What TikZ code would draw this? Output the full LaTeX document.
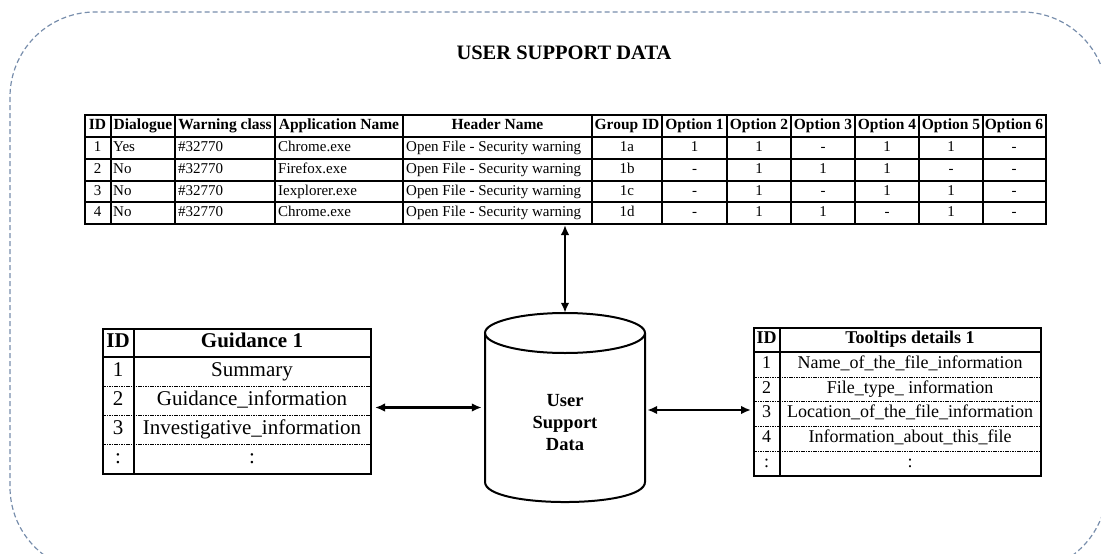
\documentclass[tikz,border=0pt]{standalone}
\usepackage{fontspec}
\setmainfont{Liberation Serif}
\usetikzlibrary{arrows.meta}
\definecolor{bordercol}{RGB}{120,142,172}
\begin{document}
\begin{tikzpicture}[x=1pt,y=-1pt,
  tbl/.style={draw, line width=2pt, inner sep=0pt, anchor=north west},
  gridline/.style={line width=1.6pt},
  sepline/.style={line width=0.8pt, dash pattern=on 1.6pt off 0.8pt},
  tb/.style={font=\fontsize{15}{16}\selectfont, inner sep=0pt, text height=10pt, text depth=3pt},
  th/.style={font=\bfseries\fontsize{15.5}{16}\selectfont, inner sep=0pt, text height=10.5pt, text depth=3pt},
  gb/.style={font=\fontsize{21}{24}\selectfont, inner sep=0pt, text height=14.5pt, text depth=4.5pt},
  gh/.style={font=\bfseries\fontsize{21}{24}\selectfont, inner sep=0pt, text height=14.5pt, text depth=4.5pt},
  kb/.style={font=\fontsize{18}{20}\selectfont, inner sep=0pt, text height=12.5pt, text depth=4pt},
  kh/.style={font=\bfseries\fontsize{18}{20}\selectfont, inner sep=0pt, text height=12.5pt, text depth=4pt},
  link/.style={line width=2.2pt, {Latex[length=10pt,width=8.5pt]}-{Latex[length=10pt,width=8.5pt]}},
  cyl/.style={line width=2pt}]
\useasboundingbox (0,0) rectangle (1101,554);

% dashed outer frame
\begin{scope}
\clip (0,0) rectangle (1101,554);
\draw[bordercol, line width=1.2pt, dash pattern=on 5pt off 3pt, rounded corners=85pt] (10,12) rectangle (1107,572);
\end{scope}

% title
\node[font=\bfseries\fontsize{20.5}{22}\selectfont] (title) at (564,53) {USER SUPPORT DATA};

% ---------- top table ----------
\node[tbl, minimum width=961pt, minimum height=109pt] (toptab) at (84,114) {};
\foreach \x in {111,175,275,403,592,662,727,791,855,919,983}
  \draw[gridline] (\x,114) -- (\x,223);
\foreach \y in {137,159,181,202}
  \draw[gridline] (84,\y) -- (1045,\y);
\foreach \x/\t [count=\i] in {97.5/ID,143/Dialogue,225/Warning class,339/Application Name,497.5/Header Name,627/Group ID,694.5/Option 1,759/Option 2,823/Option 3,887/Option 4,951/Option 5,1014/Option 6}
  \node[th] (h\i) at (\x,125.5) {\t};
\foreach \y/\id/\dlg/\app/\grp/\oa/\ob/\oc/\od/\oe/\of in {
  148/1/Yes/Chrome.exe/1a/1/1/-/1/1/-,
  170/2/No/Firefox.exe/1b/-/1/1/1/-/-,
  191.5/3/No/Iexplorer.exe/1c/-/1/-/1/1/-,
  212.5/4/No/Chrome.exe/1d/-/1/1/-/1/-}{
  \node[tb] (r\id c1) at (97.5,\y) {\id};
  \node[tb, anchor=west] (r\id c2) at (113,\y) {\dlg};
  \node[tb, anchor=west] (r\id c3) at (178,\y) {\#32770};
  \node[tb, anchor=west] (r\id c4) at (278,\y) {\app};
  \node[tb, anchor=west] (r\id c5) at (406,\y) {Open File - Security warning};
  \node[tb] (r\id c6) at (627,\y) {\grp};
  \node[tb] (r\id c7) at (694.5,\y) {\oa};
  \node[tb] (r\id c8) at (759,\y) {\ob};
  \node[tb] (r\id c9) at (823,\y) {\oc};
  \node[tb] (r\id c10) at (887,\y) {\od};
  \node[tb] (r\id c11) at (951,\y) {\oe};
  \node[tb] (r\id c12) at (1014,\y) {\of};
}

% ---------- guidance table ----------
\node[tbl, minimum width=268pt, minimum height=145pt] (guid) at (102,328) {};
\draw[gridline, line width=1.8pt] (134,328) -- (134,473);
\draw[gridline, line width=1.8pt] (102,357) -- (370,357);
\foreach \y in {386,415,444}
  \draw[sepline] (102,\y) -- (370,\y);
\node[gh] (g0a) at (118,342.5) {ID};
\node[gh] (g0b) at (252,342.5) {Guidance 1};
\foreach \y/\id/\t [count=\i] in {371.5/1/Summary, 400.5/2/Guidance\_information, 429.5/3/Investigative\_information, 458.5/:/:}{
  \node[gb] (g\i a) at (118,\y) {\id};
  \node[gb] (g\i b) at (252,\y) {\t};
}

% ---------- tooltips table ----------
\node[tbl, minimum width=287pt, minimum height=148pt] (tool) at (753,327) {};
\draw[gridline, line width=1.8pt] (780,327) -- (780,475);
\draw[gridline, line width=1.8pt] (753,352) -- (1040,352);
\foreach \y in {377,401,426,451}
  \draw[sepline] (753,\y) -- (1040,\y);
\node[kh] (k0a) at (766.5,339.5) {ID};
\node[kh] (k0b) at (910,339.5) {Tooltips details 1};
\foreach \y/\id/\t [count=\i] in {364.5/1/Name\_of\_the\_file\_information, 389/2/File\_type\_ information, 413.5/3/Location\_of\_the\_file\_information, 438.5/4/Information\_about\_this\_file, 463/:/:}{
  \node[kb] (k\i a) at (766.5,\y) {\id};
  \node[kb] (k\i b) at (910,\y) {\t};
}

% ---------- database cylinder ----------
\node[minimum width=160pt, minimum height=189pt, inner sep=0pt] (db) at (565,407.5) {};
\draw[cyl, fill=white] (485,333) -- (485,482) .. controls (485,508.7) and (645,508.7) .. (645,482) -- (645,333);
\draw[cyl] (565,333) ellipse (80pt and 20pt);
\node[font=\bfseries\fontsize{18.5}{22}\selectfont, align=center] (dblabel) at (565,423) {User\\Support\\Data};

% ---------- connectors ----------
\draw[link] (db.north) -- (db.north |- toptab.south);
\draw[link, shorten <=3pt, shorten >=3pt] (db.west) -- (db.west -| guid.east);
\draw[link, shorten <=2pt, shorten >=2pt] ([yshift=-2.5pt]db.east) -- ([yshift=-2.5pt]db.east -| tool.west);
\end{tikzpicture}
\end{document}
